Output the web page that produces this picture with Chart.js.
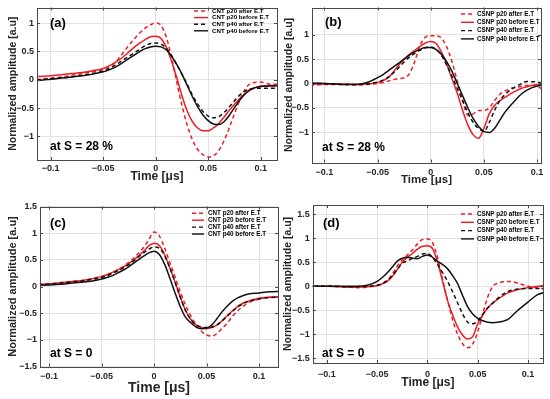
<!DOCTYPE html>
<html><head><meta charset="utf-8">
<script src="https://cdn.jsdelivr.net/npm/chart.js@4/dist/chart.umd.min.js"></script>
<style>
html,body{margin:0;padding:0;background:#fff;}
#wrap{position:relative;width:550px;height:399px;overflow:hidden;background:#fff;}
canvas{position:absolute;left:0;top:0;}
</style></head><body>
<div id="wrap">
<canvas id="pa" width="550" height="399"></canvas>
<canvas id="pb" width="550" height="399"></canvas>
<canvas id="pc" width="550" height="399"></canvas>
<canvas id="pd" width="550" height="399"></canvas>
</div>
<script>
// ---- data (time in µs, normalized amplitude) ----
const time = [-0.12,-0.11,-0.1,-0.09,-0.08,-0.07,-0.06,-0.05,-0.045,-0.04,-0.035,-0.03,-0.025,-0.02,-0.015,-0.01,-0.005,0,0.005,0.01,0.015,0.02,0.025,0.03,0.035,0.04,0.045,0.05,0.055,0.06,0.065,0.07,0.075,0.08,0.085,0.09,0.1,0.11,0.12];

const xTickValues = [-0.1,-0.05,0,0.05,0.1];
const xTickLabels = ['\u22120.1','\u22120.05','0','0.05','0.1'];
const yTickValuesTop = [-1,-0.5,0,0.5,1];
const yTickLabelsTop = ['\u22121','\u22120.5','0','0.5','1'];
const yTickValuesBottom = [-1.5,-1,-0.5,0,0.5,1,1.5];
const yTickLabelsBottom = ['\u22121.5','\u22121','\u22120.5','0','0.5','1','1.5'];

const namesCNT = ['CNT p20 after E.T','CNT p20 before E.T','CNT p40 after E.T','CNT p40 before E.T'];
const namesCSNP = ['CSNP p20 after E.T','CSNP p20 before E.T','CSNP p40 after E.T','CSNP p40 before E.T'];
const panelTags = ['(a)','(b)','(c)','(d)'];
const panelNotes = ['at S = 28 %','at S = 28 %','at S = 0','at S = 0'];
const xTitle = 'Time [\u03bcs]';
const yTitle = 'Normalized amplitude [a.u]';

// (a) CNT, S = 28 %
const aP20After  = [-0.01,0.01,0.03,0.05,0.08,0.11,0.14,0.18,0.22,0.28,0.38,0.50,0.62,0.73,0.83,0.91,0.97,1.0,0.96,0.76,0.4,-0.03,-0.45,-0.8,-1.06,-1.23,-1.32,-1.36,-1.34,-1.25,-1.08,-0.85,-0.6,-0.36,-0.17,-0.07,-0.04,-0.08,-0.08];
const aP20Before = [0.05,0.06,0.07,0.09,0.11,0.13,0.16,0.2,0.24,0.29,0.35,0.42,0.5,0.58,0.65,0.71,0.76,0.77,0.73,0.58,0.33,0.04,-0.28,-0.55,-0.74,-0.85,-0.9,-0.9,-0.85,-0.77,-0.66,-0.54,-0.43,-0.33,-0.25,-0.18,-0.11,-0.1,-0.1];
const aP40After  = [-0.01,0.0,0.02,0.03,0.05,0.08,0.11,0.15,0.19,0.24,0.3,0.36,0.42,0.48,0.54,0.6,0.64,0.65,0.63,0.56,0.43,0.27,0.1,-0.08,-0.27,-0.43,-0.56,-0.64,-0.67,-0.65,-0.58,-0.48,-0.37,-0.27,-0.2,-0.16,-0.15,-0.15,-0.15];
const aP40Before = [-0.02,-0.01,0.01,0.03,0.05,0.07,0.1,0.14,0.17,0.21,0.26,0.32,0.38,0.44,0.5,0.55,0.58,0.59,0.58,0.53,0.42,0.27,0.1,-0.1,-0.3,-0.48,-0.62,-0.72,-0.78,-0.79,-0.74,-0.63,-0.49,-0.36,-0.25,-0.17,-0.12,-0.11,-0.1];

// (b) CSNP, S = 28 %
const bP20After  = [-0.03,-0.03,-0.02,-0.02,-0.02,-0.03,-0.02,0.0,0.02,0.05,0.08,0.1,0.12,0.2,0.45,0.78,0.95,0.98,0.98,0.93,0.75,0.45,0.05,-0.35,-0.65,-0.62,-0.55,-0.55,-0.5,-0.35,-0.22,-0.15,-0.1,-0.08,-0.06,-0.04,-0.05,-0.2,-0.2];
const bP20Before = [-0.01,-0.01,-0.01,-0.01,-0.01,-0.02,-0.01,0.02,0.06,0.12,0.24,0.38,0.5,0.6,0.68,0.76,0.83,0.86,0.82,0.65,0.4,0.1,-0.2,-0.55,-0.85,-1.05,-1.12,-0.92,-0.62,-0.45,-0.35,-0.28,-0.21,-0.15,-0.1,-0.07,-0.02,-0.02,-0.02];
const bP40After  = [0.0,0.0,0.0,-0.01,-0.02,-0.02,-0.01,0.03,0.07,0.13,0.22,0.33,0.44,0.54,0.62,0.68,0.73,0.75,0.7,0.58,0.38,0.15,-0.1,-0.35,-0.6,-0.8,-0.92,-0.98,-0.8,-0.55,-0.35,-0.22,-0.13,-0.06,-0.01,0.04,0.03,-0.03,-0.03];
const bP40Before = [0.02,0.01,0.0,-0.01,-0.02,-0.02,0.02,0.12,0.18,0.26,0.34,0.42,0.5,0.58,0.65,0.7,0.74,0.74,0.7,0.6,0.45,0.25,0.0,-0.25,-0.5,-0.72,-0.88,-0.98,-1.0,-0.92,-0.75,-0.58,-0.45,-0.33,-0.22,-0.14,-0.05,-0.02,-0.02];

// (c) CNT, S = 0
const cP20After  = [0.03,0.04,0.05,0.07,0.09,0.11,0.14,0.19,0.22,0.26,0.31,0.37,0.44,0.52,0.62,0.73,0.88,1.02,0.95,0.72,0.45,0.18,-0.1,-0.35,-0.55,-0.72,-0.84,-0.91,-0.93,-0.88,-0.78,-0.68,-0.55,-0.45,-0.37,-0.3,-0.24,-0.2,-0.2];
const cP20Before = [0.03,0.04,0.05,0.07,0.09,0.11,0.14,0.19,0.22,0.26,0.31,0.36,0.42,0.49,0.57,0.66,0.76,0.81,0.77,0.6,0.35,0.08,-0.2,-0.45,-0.62,-0.72,-0.77,-0.79,-0.77,-0.72,-0.64,-0.54,-0.45,-0.37,-0.31,-0.27,-0.22,-0.2,-0.19];
const cP40After  = [0.02,0.03,0.04,0.06,0.08,0.1,0.13,0.17,0.2,0.24,0.29,0.34,0.4,0.47,0.55,0.63,0.7,0.74,0.72,0.58,0.35,0.08,-0.2,-0.45,-0.62,-0.72,-0.76,-0.77,-0.76,-0.72,-0.64,-0.55,-0.46,-0.38,-0.32,-0.28,-0.23,-0.21,-0.2];
const cP40Before = [0.01,0.02,0.03,0.04,0.06,0.08,0.1,0.14,0.17,0.2,0.25,0.3,0.36,0.43,0.5,0.57,0.63,0.66,0.6,0.42,0.16,-0.12,-0.38,-0.58,-0.68,-0.76,-0.79,-0.78,-0.72,-0.6,-0.47,-0.36,-0.27,-0.21,-0.17,-0.14,-0.12,-0.1,-0.09];

// (d) CSNP, S = 0
const dP20After  = [0.0,0.0,0.0,-0.01,-0.02,-0.03,-0.02,0.02,0.06,0.12,0.25,0.42,0.55,0.65,0.75,0.88,0.97,0.98,0.9,0.6,0.15,-0.3,-0.7,-1.0,-1.2,-1.28,-1.2,-0.95,-0.57,-0.22,0.0,0.06,0.09,0.1,0.09,0.06,0.0,-0.04,-0.05];
const dP20Before = [0.0,0.0,0.0,-0.01,-0.02,-0.02,-0.01,0.01,0.05,0.1,0.2,0.35,0.5,0.6,0.68,0.77,0.83,0.84,0.78,0.5,0.1,-0.3,-0.6,-0.85,-1.02,-1.1,-1.05,-0.78,-0.6,-0.45,-0.35,-0.27,-0.2,-0.14,-0.1,-0.07,-0.03,0.0,0.02];
const dP40After  = [0.0,0.0,0.0,0.0,-0.01,-0.01,0.0,0.02,0.05,0.12,0.22,0.35,0.48,0.52,0.58,0.62,0.67,0.68,0.6,0.45,0.28,0.1,-0.12,-0.35,-0.58,-0.75,-0.78,-0.72,-0.58,-0.45,-0.35,-0.25,-0.17,-0.11,-0.08,-0.06,-0.05,-0.05,-0.06];
const dP40Before = [0.0,0.0,0.0,0.0,0.0,0.0,0.02,0.1,0.18,0.28,0.4,0.52,0.58,0.6,0.58,0.57,0.62,0.65,0.6,0.52,0.45,0.36,0.22,0.05,-0.2,-0.43,-0.58,-0.67,-0.72,-0.75,-0.76,-0.75,-0.73,-0.69,-0.6,-0.5,-0.33,-0.17,-0.12];

// ---- styling ----
const W = 550, H = 399;
const RED = '#ee1d23', BLK = '#111111';
const STY = [
  {color: RED, dash: [4,3]},
  {color: RED, dash: []},
  {color: BLK, dash: [4,3]},
  {color: BLK, dash: []}
];
const TXT = '#262626', GRID = '#e2e2e2', FRAME = '#4a4a4a';
const FONT = "'Liberation Sans', Arial, sans-serif";

function decor(chart, P) {
  const {ctx, chartArea: a, scales: {x, y}} = chart;
  ctx.save();
  // inner ticks
  ctx.strokeStyle = FRAME; ctx.lineWidth = 1; ctx.beginPath();
  x.ticks.forEach(t => {
    const px = Math.round(x.getPixelForValue(t.value)) + 0.5;
    ctx.moveTo(px, a.bottom); ctx.lineTo(px, a.bottom - 3);
    ctx.moveTo(px, a.top); ctx.lineTo(px, a.top + 3);
  });
  y.ticks.forEach(t => {
    const py = Math.round(y.getPixelForValue(t.value)) + 0.5;
    ctx.moveTo(a.left, py); ctx.lineTo(a.left + 3, py);
    ctx.moveTo(a.right, py); ctx.lineTo(a.right - 3, py);
  });
  ctx.stroke();
  // frame
  ctx.strokeRect(Math.round(a.left) + 0.5, Math.round(a.top) + 0.5,
                 Math.round(a.right) - Math.round(a.left), Math.round(a.bottom) - Math.round(a.top));
  // legend
  const L = P.leg;
  ctx.font = 'bold ' + L.size + 'px ' + FONT;
  ctx.textBaseline = 'middle'; ctx.textAlign = 'left';
  chart.data.datasets.forEach((ds, i) => {
    const yy = L.y0 + i * L.dy;
    ctx.beginPath();
    ctx.strokeStyle = ds.borderColor; ctx.lineWidth = 1.4;
    ctx.setLineDash(ds.borderDash || []);
    ctx.moveTo(L.x, yy); ctx.lineTo(L.x + L.len, yy); ctx.stroke();
    ctx.setLineDash([]);
    ctx.fillStyle = '#000';
    ctx.fillText(ds.label, L.x + L.len + L.gap, yy);
  });
  // panel tag & note
  ctx.fillStyle = '#000';
  ctx.font = 'bold ' + P.tag.size + 'px ' + FONT;
  ctx.fillText(P.tag.text, P.tag.x, P.tag.y);
  ctx.font = 'bold ' + P.note.size + 'px ' + FONT;
  ctx.fillText(P.note.text, P.note.x, P.note.y);
  ctx.restore();
}

function makePanel(id, P) {
  const lhY = P.yTitleSize * 1.2, lhX = P.xTitleSize * 1.2;
  const padLeft = P.yTitleX - lhY / 2;
  const xAxisBottom = P.xTitleY + lhX / 2;
  const datasets = P.series.map((vals, i) => ({
    label: P.names[i],
    data: vals.map((v, k) => ({x: time[k], y: v})),
    borderColor: STY[i].color,
    borderDash: STY[i].dash,
    borderWidth: 1.5,
    pointRadius: 0,
    fill: false,
    cubicInterpolationMode: 'monotone',
    order: 3 - i
  }));
  new Chart(document.getElementById(id), {
    type: 'line',
    data: {datasets},
    options: {
      responsive: false, animation: false, events: [],
      layout: {padding: {left: padLeft, top: P.area.t, right: W - P.area.r, bottom: H - xAxisBottom}},
      plugins: {legend: {display: false}, tooltip: {enabled: false}},
      scales: {
        x: {
          type: 'linear', min: P.xMin, max: P.xMax,
          afterBuildTicks: s => { s.ticks = xTickValues.map(v => ({value: v})); },
          afterFit: s => { s.height = xAxisBottom - P.area.b; },
          ticks: {
            callback: v => xTickLabels[xTickValues.indexOf(v)],
            font: {family: FONT, size: 9, weight: 'bold'}, color: TXT,
            padding: P.xTickPad, maxRotation: 0, autoSkip: false
          },
          grid: {color: GRID, drawTicks: false, lineWidth: 1},
          border: {display: false},
          title: {display: true, text: xTitle, color: TXT, padding: 0,
                  font: {family: FONT, size: P.xTitleSize, weight: 'bold', lineHeight: 1.2}}
        },
        y: {
          type: 'linear', min: P.yMin, max: P.yMax,
          afterBuildTicks: s => { s.ticks = P.yVals.map(v => ({value: v})); },
          afterFit: s => { s.width = P.area.l - padLeft; },
          ticks: {
            callback: v => P.yLabs[P.yVals.indexOf(v)],
            font: {family: FONT, size: 9, weight: 'bold', lineHeight: 1}, color: TXT,
            padding: 3, autoSkip: false
          },
          grid: {color: GRID, drawTicks: false, lineWidth: 1},
          border: {display: false},
          title: {display: true, text: yTitle, color: TXT, padding: 0,
                  font: {family: FONT, size: P.yTitleSize, weight: 'bold', lineHeight: 1.2}}
        }
      }
    },
    plugins: [{id: 'decor' + id, afterDraw: c => decor(c, P)}]
  });
}

makePanel('pa', {
  area: {l: 37, t: 6, r: 277, b: 160},
  xMin: -0.113, xMax: 0.1155, yMin: -1.415, yMax: 1.275,
  yVals: yTickValuesTop, yLabs: yTickLabelsTop,
  yTitleX: 13, yTitleSize: 10.5, xTitleY: 177, xTitleSize: 12, xTickPad: 3,
  series: [aP20After, aP20Before, aP40After, aP40Before], names: namesCNT,
  leg: {x: 194, y0: 11, dy: 6.6, len: 14, gap: 4, size: 6.2},
  tag: {text: panelTags[0], x: 50, y: 23, size: 13},
  note: {text: panelNotes[0], x: 50, y: 147, size: 12}
});
makePanel('pb', {
  area: {l: 312, t: 7, r: 541, b: 162.5},
  xMin: -0.1116, xMax: 0.1037, yMin: -1.616, yMax: 1.557,
  yVals: yTickValuesTop, yLabs: yTickLabelsTop,
  yTitleX: 289, yTitleSize: 10.5, xTitleY: 180, xTitleSize: 11.5, xTickPad: 5,
  series: [bP20After, bP20Before, bP40After, bP40Before], names: namesCSNP,
  leg: {x: 461, y0: 14, dy: 8.3, len: 13, gap: 3, size: 6.3},
  tag: {text: panelTags[1], x: 325, y: 22, size: 13},
  note: {text: panelNotes[1], x: 322, y: 148, size: 12}
});
makePanel('pc', {
  area: {l: 40, t: 206.5, r: 278, b: 366.5},
  xMin: -0.1086, xMax: 0.118, yMin: -1.5, yMax: 1.5,
  yVals: yTickValuesBottom, yLabs: yTickLabelsBottom,
  yTitleX: 13, yTitleSize: 11, xTitleY: 388, xTitleSize: 14, xTickPad: 4.5,
  series: [cP20After, cP20Before, cP40After, cP40Before], names: namesCNT,
  leg: {x: 192, y0: 213.3, dy: 6.9, len: 12, gap: 4, size: 6.3},
  tag: {text: panelTags[2], x: 50, y: 223, size: 13},
  note: {text: panelNotes[2], x: 50, y: 354, size: 12}
});
makePanel('pd', {
  area: {l: 312.7, t: 205, r: 543, b: 363},
  xMin: -0.1142, xMax: 0.1149, yMin: -1.597, yMax: 1.688,
  yVals: yTickValuesBottom, yLabs: yTickLabelsBottom,
  yTitleX: 288, yTitleSize: 10.5, xTitleY: 383, xTitleSize: 12, xTickPad: 6,
  series: [dP20After, dP20Before, dP40After, dP40Before], names: namesCSNP,
  leg: {x: 461, y0: 214, dy: 8.3, len: 13, gap: 3, size: 6.3},
  tag: {text: panelTags[3], x: 323, y: 223, size: 13},
  note: {text: panelNotes[3], x: 322, y: 354, size: 12}
});
</script>
</body></html>
